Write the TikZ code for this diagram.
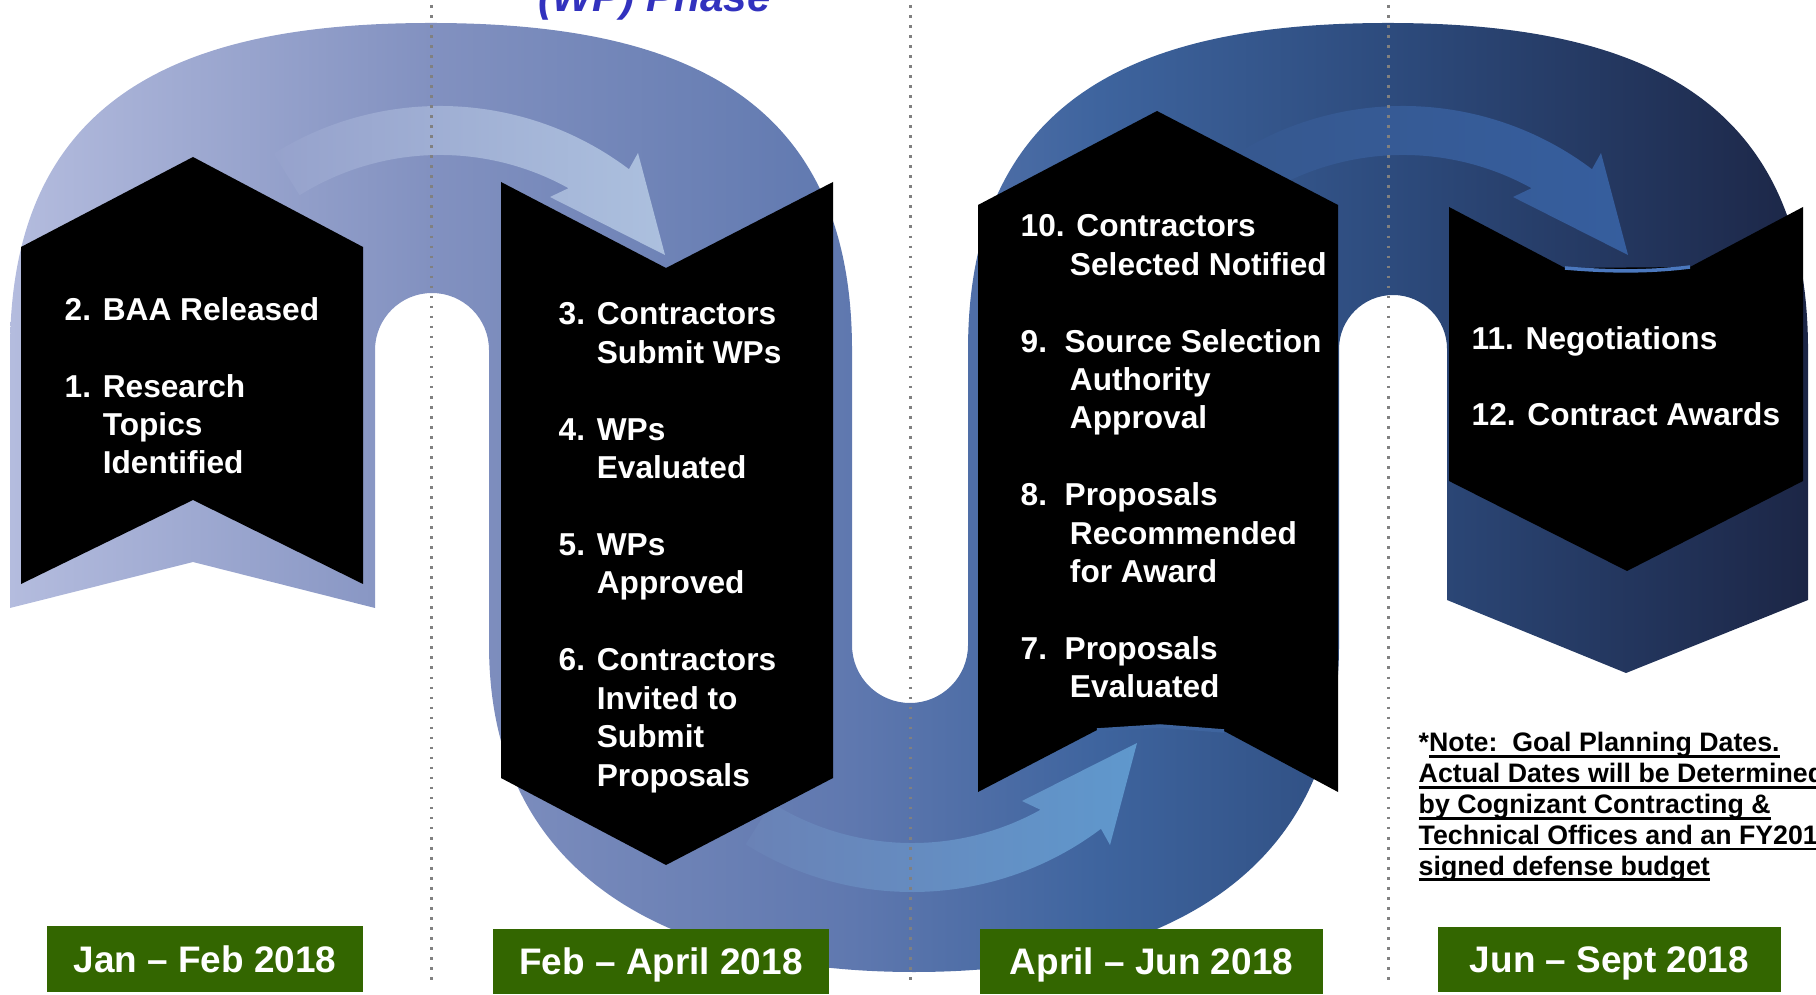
\documentclass[tikz,border=0pt]{standalone}
\usepackage{fontspec}
\setmainfont{Liberation Sans}

\definecolor{bandc1}{RGB}{180,188,222}
\definecolor{bandc2}{RGB}{130,145,192}
\definecolor{bandc3}{RGB}{95,120,175}
\definecolor{bandc4}{RGB}{62,100,158}
\definecolor{bandc5}{RGB}{45,75,125}
\definecolor{bandc6}{RGB}{28,38,70}
\definecolor{arrowAl}{RGB}{150,162,204}
\definecolor{arrowAr}{RGB}{172,192,222}
\definecolor{arrowBl}{RGB}{54,88,143}
\definecolor{arrowBr}{RGB}{54,94,158}
\definecolor{arrowCl}{RGB}{106,130,182}
\definecolor{arrowCr}{RGB}{95,152,205}
\definecolor{dategreen}{RGB}{51,102,0}
\definecolor{phaseblue}{RGB}{50,50,190}

\pgfdeclarehorizontalshading{bandshading}{100bp}{color(0bp)=(bandc1); color(25bp)=(bandc1); color(36.7bp)=(bandc2); color(48.4bp)=(bandc3); color(55.3bp)=(bandc4); color(63.4bp)=(bandc5); color(75bp)=(bandc6); color(100bp)=(bandc6)}

\newsavebox\notebox
\newcommand{\noteul}[1]{\sbox\notebox{#1}\rlap{\rule[-1.8pt]{\wd\notebox}{0.85pt}}\usebox\notebox}

% curved flow arrow, drawn round its centre
\newcommand{\flowarrow}[4]{%
  \begin{scope}[shift={#1}, yscale=#2]
    \shade[left color=#3, right color=#4] (-166.4,-266.3) arc[start angle=-122, end angle=-53, radius=314]
      -- (198,-267) -- (225,-165) -- (110,-223) -- (128.5,-231.8)
      arc[start angle=-61, end angle=-122, radius=265] -- cycle;
  \end{scope}}

\begin{document}
\begin{tikzpicture}[x=0.01cm, y=-0.01cm,
    ribbon/.style={fill=black},
    glint/.style={line width=1pt},
    divider/.style={draw=gray, line width=0.85pt, dash pattern=on 0.75pt off 2.1pt},
    steptext/.style={anchor=base west, inner sep=0pt, align=left, text=white, font={\fontsize{9}{10.93}\selectfont\bfseries}},
    notetext/.style={anchor=base west, inner sep=0pt, align=left, text=black, font={\fontsize{7.6}{8.77}\selectfont\bfseries}},
    datebox/.style={fill=dategreen, text=white, inner sep=0pt, minimum height=0.65cm, text height=7.5pt, text depth=0pt, font={\fontsize{10.5}{12}\selectfont\bfseries}}]

  \useasboundingbox (0,0) rectangle (1816,995);

  % serpentine band
  \shade[shading=bandshading] (10,608) -- (10,350) .. controls (10,90) and (190,23) .. (431,23)
    .. controls (672,23) and (852,90) .. (852,350) -- (852,645)
    arc[start angle=180, end angle=0, radius=58] -- (968,350)
    .. controls (968,90) and (1148,23) .. (1388,23) .. controls (1628,23) and (1808,90) .. (1808,350)
    -- (1808,600) -- (1626,673) -- (1447,600) -- (1447,349)
    arc[start angle=0, end angle=-180, radius=54] -- (1339,645)
    .. controls (1339,890) and (1138,972) .. (914,972) .. controls (690,972) and (489,890) .. (489,645)
    -- (489,350) arc[start angle=0, end angle=-180, radius=57] -- (375,608) -- (193,562) -- cycle;

  % flow arrows
  \flowarrow{(440,420)}{1}{arrowAl}{arrowAr}
  \flowarrow{(1403,420)}{1}{arrowBl}{arrowBr}
  \flowarrow{(912,578)}{-1}{arrowCl}{arrowCr}

  % black ribbons
  \fill[ribbon] (21,247) -- (193,157) -- (363,247) -- (363,584) -- (193,500) -- (21,584) -- cycle;
  \fill[ribbon] (501,182) -- (666,268) -- (833,182) -- (833,778) -- (666,865) -- (501,778) -- cycle;
  \fill[ribbon] (978,205) -- (1157,111) -- (1338,205) -- (1338,792) -- (1224,731) -- (1160,726)
    -- (1097,730) -- (978,792) -- cycle;
  \fill[ribbon] (1449,207) -- (1565,268) -- (1690,267) -- (1803,207) -- (1803,481) -- (1627,571)
    -- (1449,481) -- cycle;
  \draw[glint, draw=bandc4] (1097,730) -- (1160,726) -- (1224,731);
  \draw[glint, draw={rgb,255:red,75;green,120;blue,190}] (1565,268) .. controls (1610,272) and (1650,272) .. (1690,267);

  % period dividers
  \foreach \x in {431,910,1388}
    \draw[divider] (\x,5) -- (\x,985);

  % step texts (placed at the baseline of their last line)
  \node[steptext] (steps1) at (64,474) {2. BAA Released\\[10.93pt]1. Research\\\hphantom{1. }Topics\\\hphantom{1. }Identified};
  \node[steptext] (steps2) at (558,786) {3. Contractors\\\hphantom{3. }Submit WPs\\[10.93pt]4. WPs\\\hphantom{4. }Evaluated\\[10.93pt]5. WPs\\\hphantom{5. }Approved\\[10.93pt]6. Contractors\\\hphantom{6. }Invited to\\\hphantom{6. }Submit\\\hphantom{6. }Proposals};
  \node[steptext] (steps3) at (1020,698) {10. Contractors\\\hphantom{10.\,}Selected Notified\\[10.93pt]9.\ \ Source Selection\\\hphantom{10.\,}Authority\\\hphantom{10.\,}Approval\\[10.93pt]8.\ \ Proposals\\\hphantom{10.\,}Recommended\\\hphantom{10.\,}for Award\\[10.93pt]7.\ \ Proposals\\\hphantom{10.\,}Evaluated};
  \node[steptext] (steps4) at (1471,426) {11. Negotiations\\[10.93pt]12. Contract Awards};

  % date boxes
  \node[datebox, minimum width=3.16cm] (jan) at (205,959) {Jan -- Feb 2018};
  \node[datebox, minimum width=3.36cm] (feb) at (661,961.5) {Feb -- April 2018};
  \node[datebox, minimum width=3.43cm] (apr) at (1151.5,961.5) {April -- Jun 2018};
  \node[datebox, minimum width=3.43cm] (jun) at (1609.5,959.5) {Jun -- Sept 2018};

  % note and title
  \node[notetext] (note) at (1418,875) {*\noteul{Note:\ \ Goal Planning Dates.}\\\noteul{Actual Dates will be Determined}\\\noteul{by Cognizant Contracting \&}\\\noteul{Technical Offices and an FY201}\\\noteul{signed defense budget}};
  \node[anchor=base west, inner sep=0pt, text=phaseblue, font={\fontsize{12}{14}\selectfont\bfseries\itshape}] (phase) at (538,12) {(WP) Phase};
\end{tikzpicture}
\end{document}
